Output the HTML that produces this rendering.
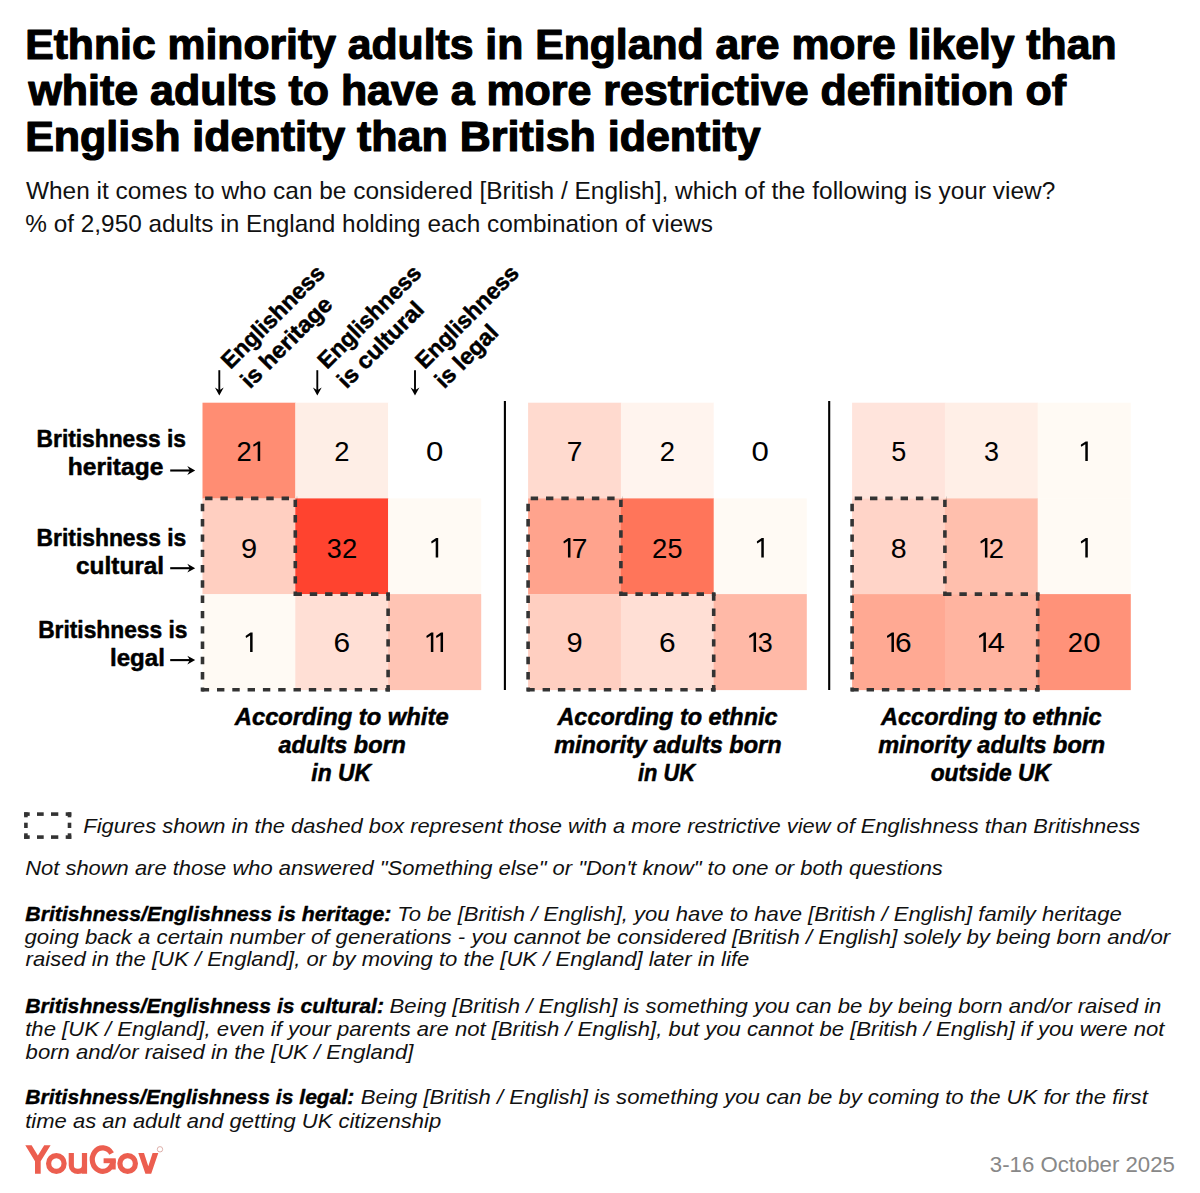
<!DOCTYPE html><html><head><meta charset="utf-8"><style>html,body{margin:0;padding:0;background:#fff;}svg{display:block;}text{font-family:"Liberation Sans",sans-serif;}</style></head><body>
<svg width="1200" height="1193" viewBox="0 0 1200 1193">
<rect x="0" y="0" width="1200" height="1193" fill="#fff"/>
<rect x="202.50" y="402.70" width="93.10" height="96.00" fill="#FF8D73"/>
<rect x="295.30" y="402.70" width="93.10" height="96.00" fill="#FEEEE6"/>
<rect x="388.10" y="402.70" width="93.10" height="96.00" fill="#FFFFFF"/>
<rect x="202.50" y="498.40" width="93.10" height="96.00" fill="#FFCFC1"/>
<rect x="295.30" y="498.40" width="93.10" height="96.00" fill="#FF432F"/>
<rect x="388.10" y="498.40" width="93.10" height="96.00" fill="#FFFAF4"/>
<rect x="202.50" y="594.10" width="93.10" height="96.00" fill="#FFFAF4"/>
<rect x="295.30" y="594.10" width="93.10" height="96.00" fill="#FFDFD5"/>
<rect x="388.10" y="594.10" width="93.10" height="96.00" fill="#FFC4B4"/>
<rect x="528.10" y="402.70" width="93.10" height="96.00" fill="#FFDACF"/>
<rect x="620.90" y="402.70" width="93.10" height="96.00" fill="#FFF4EE"/>
<rect x="713.70" y="402.70" width="93.10" height="96.00" fill="#FFFFFF"/>
<rect x="528.10" y="498.40" width="93.10" height="96.00" fill="#FFA38D"/>
<rect x="620.90" y="498.40" width="93.10" height="96.00" fill="#FF755A"/>
<rect x="713.70" y="498.40" width="93.10" height="96.00" fill="#FFFAF4"/>
<rect x="528.10" y="594.10" width="93.10" height="96.00" fill="#FFCFC1"/>
<rect x="620.90" y="594.10" width="93.10" height="96.00" fill="#FFDFD5"/>
<rect x="713.70" y="594.10" width="93.10" height="96.00" fill="#FFB9A7"/>
<rect x="852.10" y="402.70" width="93.10" height="96.00" fill="#FFE4DC"/>
<rect x="944.90" y="402.70" width="93.10" height="96.00" fill="#FFEFE7"/>
<rect x="1037.70" y="402.70" width="93.10" height="96.00" fill="#FFFAF4"/>
<rect x="852.10" y="498.40" width="93.10" height="96.00" fill="#FFD4C8"/>
<rect x="944.90" y="498.40" width="93.10" height="96.00" fill="#FFBFAD"/>
<rect x="1037.70" y="498.40" width="93.10" height="96.00" fill="#FFFAF4"/>
<rect x="852.10" y="594.10" width="93.10" height="96.00" fill="#FFA993"/>
<rect x="944.90" y="594.10" width="93.10" height="96.00" fill="#FFB4A0"/>
<rect x="1037.70" y="594.10" width="93.10" height="96.00" fill="#FF9279"/>
<text x="236.62" y="461.00" font-size="28.20" textLength="15.26" lengthAdjust="spacingAndGlyphs" fill="#000">2</text>
<path d="M257.70 461.00 L260.20 461.00 L260.20 441.50 L258.10 441.50 L253.40 444.60 L253.20 445.40 L253.70 446.80 L257.70 444.30 Z" fill="#000"/>
<text x="334.27" y="461.00" font-size="28.20" textLength="15.26" lengthAdjust="spacingAndGlyphs" fill="#000">2</text>
<text x="426.03" y="461.00" font-size="28.20" textLength="17.34" lengthAdjust="spacingAndGlyphs" fill="#000">0</text>
<text x="241.04" y="557.60" font-size="28.20" textLength="16.13" lengthAdjust="spacingAndGlyphs" fill="#000">9</text>
<text x="326.87" y="557.60" font-size="28.20" textLength="15.01" lengthAdjust="spacingAndGlyphs" fill="#000">3</text>
<text x="342.02" y="557.60" font-size="28.20" textLength="15.26" lengthAdjust="spacingAndGlyphs" fill="#000">2</text>
<path d="M435.70 557.60 L438.20 557.60 L438.20 538.10 L436.10 538.10 L431.40 541.20 L431.20 542.00 L431.70 543.40 L435.70 540.90 Z" fill="#000"/>
<path d="M250.10 652.10 L252.60 652.10 L252.60 632.60 L250.50 632.60 L245.80 635.70 L245.60 636.50 L246.10 637.90 L250.10 635.40 Z" fill="#000"/>
<text x="333.48" y="652.10" font-size="28.20" textLength="16.63" lengthAdjust="spacingAndGlyphs" fill="#000">6</text>
<path d="M430.85 652.10 L433.35 652.10 L433.35 632.60 L431.25 632.60 L426.55 635.70 L426.35 636.50 L426.85 637.90 L430.85 635.40 Z" fill="#000"/>
<path d="M440.55 652.10 L443.05 652.10 L443.05 632.60 L440.95 632.60 L436.25 635.70 L436.05 636.50 L436.55 637.90 L440.55 635.40 Z" fill="#000"/>
<text x="566.86" y="461.00" font-size="28.20" textLength="15.66" lengthAdjust="spacingAndGlyphs" fill="#000">7</text>
<text x="659.87" y="461.00" font-size="28.20" textLength="15.26" lengthAdjust="spacingAndGlyphs" fill="#000">2</text>
<text x="751.63" y="461.00" font-size="28.20" textLength="17.34" lengthAdjust="spacingAndGlyphs" fill="#000">0</text>
<path d="M567.95 557.60 L570.45 557.60 L570.45 538.10 L568.35 538.10 L563.65 541.20 L563.45 542.00 L563.95 543.40 L567.95 540.90 Z" fill="#000"/>
<text x="571.71" y="557.60" font-size="28.20" textLength="15.66" lengthAdjust="spacingAndGlyphs" fill="#000">7</text>
<text x="652.12" y="557.60" font-size="28.20" textLength="15.26" lengthAdjust="spacingAndGlyphs" fill="#000">2</text>
<text x="667.62" y="557.60" font-size="28.20" textLength="15.01" lengthAdjust="spacingAndGlyphs" fill="#000">5</text>
<path d="M761.30 557.60 L763.80 557.60 L763.80 538.10 L761.70 538.10 L757.00 541.20 L756.80 542.00 L757.30 543.40 L761.30 540.90 Z" fill="#000"/>
<text x="566.64" y="652.10" font-size="28.20" textLength="16.13" lengthAdjust="spacingAndGlyphs" fill="#000">9</text>
<text x="659.08" y="652.10" font-size="28.20" textLength="16.63" lengthAdjust="spacingAndGlyphs" fill="#000">6</text>
<path d="M753.55 652.10 L756.05 652.10 L756.05 632.60 L753.95 632.60 L749.25 635.70 L749.05 636.50 L749.55 637.90 L753.55 635.40 Z" fill="#000"/>
<text x="757.72" y="652.10" font-size="28.20" textLength="15.01" lengthAdjust="spacingAndGlyphs" fill="#000">3</text>
<text x="891.22" y="461.00" font-size="28.20" textLength="15.01" lengthAdjust="spacingAndGlyphs" fill="#000">5</text>
<text x="984.07" y="461.00" font-size="28.20" textLength="15.01" lengthAdjust="spacingAndGlyphs" fill="#000">3</text>
<path d="M1085.30 461.00 L1087.80 461.00 L1087.80 441.50 L1085.70 441.50 L1081.00 444.60 L1080.80 445.40 L1081.30 446.80 L1085.30 444.30 Z" fill="#000"/>
<text x="890.76" y="557.60" font-size="28.20" textLength="15.88" lengthAdjust="spacingAndGlyphs" fill="#000">8</text>
<path d="M984.90 557.60 L987.40 557.60 L987.40 538.10 L985.30 538.10 L980.60 541.20 L980.40 542.00 L980.90 543.40 L984.90 540.90 Z" fill="#000"/>
<text x="988.72" y="557.60" font-size="28.20" textLength="15.26" lengthAdjust="spacingAndGlyphs" fill="#000">2</text>
<path d="M1085.30 557.60 L1087.80 557.60 L1087.80 538.10 L1085.70 538.10 L1081.00 541.20 L1080.80 542.00 L1081.30 543.40 L1085.30 540.90 Z" fill="#000"/>
<path d="M891.45 652.10 L893.95 652.10 L893.95 632.60 L891.85 632.60 L887.15 635.70 L886.95 636.50 L887.45 637.90 L891.45 635.40 Z" fill="#000"/>
<text x="895.13" y="652.10" font-size="28.20" textLength="16.63" lengthAdjust="spacingAndGlyphs" fill="#000">6</text>
<path d="M983.40 652.10 L985.90 652.10 L985.90 632.60 L983.80 632.60 L979.10 635.70 L978.90 636.50 L979.40 637.90 L983.40 635.40 Z" fill="#000"/>
<text x="987.89" y="652.10" font-size="28.20" textLength="17.11" lengthAdjust="spacingAndGlyphs" fill="#000">4</text>
<text x="1067.87" y="652.10" font-size="28.20" textLength="15.26" lengthAdjust="spacingAndGlyphs" fill="#000">2</text>
<text x="1083.23" y="652.10" font-size="28.20" textLength="17.34" lengthAdjust="spacingAndGlyphs" fill="#000">0</text>
<line x1="200.70" y1="498.40" x2="297.10" y2="498.40" stroke="#333333" stroke-width="3.60" stroke-dasharray="7.4 7.9" stroke-dashoffset="-4.40"/>
<line x1="295.30" y1="496.60" x2="295.30" y2="595.90" stroke="#333333" stroke-width="3.60" stroke-dasharray="7.4 7.9" stroke-dashoffset="-3.10"/>
<line x1="293.50" y1="594.10" x2="389.90" y2="594.10" stroke="#333333" stroke-width="3.60" stroke-dasharray="7.4 7.9" stroke-dashoffset="-1.00"/>
<line x1="388.10" y1="592.30" x2="388.10" y2="691.60" stroke="#333333" stroke-width="3.60" stroke-dasharray="7.4 7.9" stroke-dashoffset="-1.00"/>
<line x1="200.70" y1="689.80" x2="389.90" y2="689.80" stroke="#333333" stroke-width="3.60" stroke-dasharray="7.4 7.9" stroke-dashoffset="-1.00"/>
<line x1="202.50" y1="496.60" x2="202.50" y2="691.60" stroke="#333333" stroke-width="3.60" stroke-dasharray="7.4 7.9" stroke-dashoffset="-7.20"/>
<line x1="526.30" y1="498.40" x2="622.70" y2="498.40" stroke="#333333" stroke-width="3.60" stroke-dasharray="7.4 7.9" stroke-dashoffset="-4.40"/>
<line x1="620.90" y1="496.60" x2="620.90" y2="595.90" stroke="#333333" stroke-width="3.60" stroke-dasharray="7.4 7.9" stroke-dashoffset="-3.10"/>
<line x1="619.10" y1="594.10" x2="715.50" y2="594.10" stroke="#333333" stroke-width="3.60" stroke-dasharray="7.4 7.9" stroke-dashoffset="-1.00"/>
<line x1="713.70" y1="592.30" x2="713.70" y2="691.60" stroke="#333333" stroke-width="3.60" stroke-dasharray="7.4 7.9" stroke-dashoffset="-1.00"/>
<line x1="526.30" y1="689.80" x2="715.50" y2="689.80" stroke="#333333" stroke-width="3.60" stroke-dasharray="7.4 7.9" stroke-dashoffset="-1.00"/>
<line x1="528.10" y1="496.60" x2="528.10" y2="691.60" stroke="#333333" stroke-width="3.60" stroke-dasharray="7.4 7.9" stroke-dashoffset="-7.20"/>
<line x1="850.30" y1="498.40" x2="946.70" y2="498.40" stroke="#333333" stroke-width="3.60" stroke-dasharray="7.4 7.9" stroke-dashoffset="-4.40"/>
<line x1="944.90" y1="496.60" x2="944.90" y2="595.90" stroke="#333333" stroke-width="3.60" stroke-dasharray="7.4 7.9" stroke-dashoffset="-3.10"/>
<line x1="943.10" y1="594.10" x2="1039.50" y2="594.10" stroke="#333333" stroke-width="3.60" stroke-dasharray="7.4 7.9" stroke-dashoffset="-1.00"/>
<line x1="1037.70" y1="592.30" x2="1037.70" y2="691.60" stroke="#333333" stroke-width="3.60" stroke-dasharray="7.4 7.9" stroke-dashoffset="-1.00"/>
<line x1="850.30" y1="689.80" x2="1039.50" y2="689.80" stroke="#333333" stroke-width="3.60" stroke-dasharray="7.4 7.9" stroke-dashoffset="-1.00"/>
<line x1="852.10" y1="496.60" x2="852.10" y2="691.60" stroke="#333333" stroke-width="3.60" stroke-dasharray="7.4 7.9" stroke-dashoffset="-7.20"/>
<rect x="503.85" y="401" width="2.1" height="289" fill="#000"/>
<rect x="828.15" y="401" width="2.1" height="289" fill="#000"/>
<text x="25.18" y="59.20" font-size="42.00" fill="#000" font-weight="bold" textLength="1091.31" lengthAdjust="spacingAndGlyphs" stroke="#000" stroke-width="1.20" stroke-linejoin="round">Ethnic minority adults in England are more likely than</text>
<text x="28.47" y="105.00" font-size="42.00" fill="#000" font-weight="bold" textLength="1037.58" lengthAdjust="spacingAndGlyphs" stroke="#000" stroke-width="1.20" stroke-linejoin="round">white adults to have a more restrictive definition of</text>
<text x="25.19" y="150.80" font-size="42.00" fill="#000" font-weight="bold" textLength="735.36" lengthAdjust="spacingAndGlyphs" stroke="#000" stroke-width="1.20" stroke-linejoin="round">English identity than British identity</text>
<text x="25.93" y="198.50" font-size="24.20" fill="#111" textLength="1029.42" lengthAdjust="spacingAndGlyphs">When it comes to who can be considered [British / English], which of the following is your view?</text>
<text x="25.29" y="231.50" font-size="24.20" fill="#111" textLength="687.74" lengthAdjust="spacingAndGlyphs">% of 2,950 adults in England holding each combination of views</text>
<text x="36.59" y="447.40" font-size="23.40" fill="#000" font-weight="bold" textLength="149.35" lengthAdjust="spacingAndGlyphs" stroke="#000" stroke-width="0.50" stroke-linejoin="round">Britishness is</text>
<text x="67.87" y="474.80" font-size="23.40" fill="#000" font-weight="bold" textLength="95.44" lengthAdjust="spacingAndGlyphs" stroke="#000" stroke-width="0.50" stroke-linejoin="round">heritage</text>
<text x="36.58" y="546.20" font-size="23.40" fill="#000" font-weight="bold" textLength="149.72" lengthAdjust="spacingAndGlyphs" stroke="#000" stroke-width="0.50" stroke-linejoin="round">Britishness is</text>
<text x="76.01" y="573.70" font-size="23.40" fill="#000" font-weight="bold" textLength="88.14" lengthAdjust="spacingAndGlyphs" stroke="#000" stroke-width="0.50" stroke-linejoin="round">cultural</text>
<text x="38.17" y="638.10" font-size="23.40" fill="#000" font-weight="bold" textLength="149.34" lengthAdjust="spacingAndGlyphs" stroke="#000" stroke-width="0.50" stroke-linejoin="round">Britishness is</text>
<text x="110.04" y="665.50" font-size="23.40" fill="#000" font-weight="bold" textLength="54.88" lengthAdjust="spacingAndGlyphs" stroke="#000" stroke-width="0.50" stroke-linejoin="round">legal</text>
<text x="234.78" y="725.40" font-size="23.40" fill="#000" font-weight="bold" font-style="italic" textLength="213.84" lengthAdjust="spacingAndGlyphs" stroke="#000" stroke-width="0.50" stroke-linejoin="round">According to white</text>
<text x="278.41" y="752.90" font-size="23.40" fill="#000" font-weight="bold" font-style="italic" textLength="127.50" lengthAdjust="spacingAndGlyphs" stroke="#000" stroke-width="0.50" stroke-linejoin="round">adults born</text>
<text x="311.37" y="780.80" font-size="23.40" fill="#000" font-weight="bold" font-style="italic" textLength="59.77" lengthAdjust="spacingAndGlyphs" stroke="#000" stroke-width="0.50" stroke-linejoin="round">in UK</text>
<text x="557.45" y="725.40" font-size="23.40" fill="#000" font-weight="bold" font-style="italic" textLength="220.14" lengthAdjust="spacingAndGlyphs" stroke="#000" stroke-width="0.50" stroke-linejoin="round">According to ethnic</text>
<text x="554.16" y="752.90" font-size="23.40" fill="#000" font-weight="bold" font-style="italic" textLength="227.39" lengthAdjust="spacingAndGlyphs" stroke="#000" stroke-width="0.50" stroke-linejoin="round">minority adults born</text>
<text x="638.01" y="780.80" font-size="23.40" fill="#000" font-weight="bold" font-style="italic" textLength="57.10" lengthAdjust="spacingAndGlyphs" stroke="#000" stroke-width="0.50" stroke-linejoin="round">in UK</text>
<text x="881.09" y="725.40" font-size="23.40" fill="#000" font-weight="bold" font-style="italic" textLength="220.57" lengthAdjust="spacingAndGlyphs" stroke="#000" stroke-width="0.50" stroke-linejoin="round">According to ethnic</text>
<text x="878.19" y="752.90" font-size="23.40" fill="#000" font-weight="bold" font-style="italic" textLength="227.04" lengthAdjust="spacingAndGlyphs" stroke="#000" stroke-width="0.50" stroke-linejoin="round">minority adults born</text>
<text x="930.73" y="780.80" font-size="23.40" fill="#000" font-weight="bold" font-style="italic" textLength="120.06" lengthAdjust="spacingAndGlyphs" stroke="#000" stroke-width="0.50" stroke-linejoin="round">outside UK</text>
<text x="83.32" y="833.00" font-size="21.00" fill="#111" font-style="italic" textLength="1056.95" lengthAdjust="spacingAndGlyphs">Figures shown in the dashed box represent those with a more restrictive view of Englishness than Britishness</text>
<text x="25.24" y="874.80" font-size="21.00" fill="#111" font-style="italic" textLength="917.59" lengthAdjust="spacingAndGlyphs">Not shown are those who answered &quot;Something else&quot; or &quot;Don't know&quot; to one or both questions</text>
<text x="25.30" y="920.60" font-size="20.60" fill="#000" font-weight="bold" font-style="italic" textLength="366.14" lengthAdjust="spacingAndGlyphs" stroke="#000" stroke-width="0.40" stroke-linejoin="round">Britishness/Englishness is heritage:</text>
<text x="397.25" y="920.60" font-size="21.00" fill="#111" font-style="italic" textLength="724.40" lengthAdjust="spacingAndGlyphs">To be [British / English], you have to have [British / English] family heritage</text>
<text x="24.51" y="943.90" font-size="21.00" fill="#111" font-style="italic" textLength="1145.67" lengthAdjust="spacingAndGlyphs">going back a certain number of generations - you cannot be considered [British / English] solely by being born and/or</text>
<text x="25.63" y="966.40" font-size="21.00" fill="#111" font-style="italic" textLength="723.68" lengthAdjust="spacingAndGlyphs">raised in the [UK / England], or by moving to the [UK / England] later in life</text>
<text x="25.30" y="1012.90" font-size="20.60" fill="#000" font-weight="bold" font-style="italic" textLength="358.65" lengthAdjust="spacingAndGlyphs" stroke="#000" stroke-width="0.40" stroke-linejoin="round">Britishness/Englishness is cultural:</text>
<text x="389.58" y="1012.90" font-size="21.00" fill="#111" font-style="italic" textLength="771.85" lengthAdjust="spacingAndGlyphs">Being [British / English] is something you can be by being born and/or raised in</text>
<text x="25.24" y="1035.70" font-size="21.00" fill="#111" font-style="italic" textLength="1139.15" lengthAdjust="spacingAndGlyphs">the [UK / England], even if your parents are not [British / English], but you cannot be [British / English] if you were not</text>
<text x="25.63" y="1058.60" font-size="21.00" fill="#111" font-style="italic" textLength="387.76" lengthAdjust="spacingAndGlyphs">born and/or raised in the [UK / England]</text>
<text x="25.31" y="1104.40" font-size="20.60" fill="#000" font-weight="bold" font-style="italic" textLength="329.03" lengthAdjust="spacingAndGlyphs" stroke="#000" stroke-width="0.40" stroke-linejoin="round">Britishness/Englishness is legal:</text>
<text x="360.76" y="1104.40" font-size="21.00" fill="#111" font-style="italic" textLength="787.03" lengthAdjust="spacingAndGlyphs">Being [British / English] is something you can be by coming to the UK for the first</text>
<text x="25.24" y="1127.60" font-size="21.00" fill="#111" font-style="italic" textLength="415.96" lengthAdjust="spacingAndGlyphs">time as an adult and getting UK citizenship</text>
<text x="989.86" y="1172.40" font-size="22.40" fill="#888888" textLength="185.02" lengthAdjust="spacingAndGlyphs">3-16 October 2025</text>
<g transform="translate(230.49 370.11) rotate(-45)">
<text x="0" y="0" font-size="23.20" font-weight="bold" textLength="135.30" lengthAdjust="spacingAndGlyphs" stroke="#000" stroke-width="0.5" stroke-linejoin="round">Englishness</text>
<text x="0" y="27.6" font-size="23.20" font-weight="bold" textLength="118.50" lengthAdjust="spacingAndGlyphs" stroke="#000" stroke-width="0.5" stroke-linejoin="round">is heritage</text>
</g>
<path d="M219.30 370.2 L219.30 391" stroke="#000" stroke-width="1.9" fill="none"/>
<path d="M219.30 395.4 L214.90 387.6 L219.30 390.2 L223.70 387.6 Z" fill="#000"/>
<g transform="translate(327.09 370.11) rotate(-45)">
<text x="0" y="0" font-size="23.20" font-weight="bold" textLength="135.30" lengthAdjust="spacingAndGlyphs" stroke="#000" stroke-width="0.5" stroke-linejoin="round">Englishness</text>
<text x="0" y="27.6" font-size="23.20" font-weight="bold" textLength="111.50" lengthAdjust="spacingAndGlyphs" stroke="#000" stroke-width="0.5" stroke-linejoin="round">is cultural</text>
</g>
<path d="M317.30 370.2 L317.30 391" stroke="#000" stroke-width="1.9" fill="none"/>
<path d="M317.30 395.4 L312.90 387.6 L317.30 390.2 L321.70 387.6 Z" fill="#000"/>
<g transform="translate(424.69 370.11) rotate(-45)">
<text x="0" y="0" font-size="23.20" font-weight="bold" textLength="135.30" lengthAdjust="spacingAndGlyphs" stroke="#000" stroke-width="0.5" stroke-linejoin="round">Englishness</text>
<text x="0" y="27.6" font-size="23.20" font-weight="bold" textLength="78.60" lengthAdjust="spacingAndGlyphs" stroke="#000" stroke-width="0.5" stroke-linejoin="round">is legal</text>
</g>
<path d="M415.00 370.2 L415.00 391" stroke="#000" stroke-width="1.9" fill="none"/>
<path d="M415.00 395.4 L410.60 387.6 L415.00 390.2 L419.40 387.6 Z" fill="#000"/>
<path d="M170.2 470.50 L191 470.50" stroke="#000" stroke-width="2.1" fill="none"/>
<path d="M195.2 470.50 L187.3 466.10 L189.9 470.50 L187.3 474.90 Z" fill="#000"/>
<path d="M170.2 568.20 L191 568.20" stroke="#000" stroke-width="2.1" fill="none"/>
<path d="M195.2 568.20 L187.3 563.80 L189.9 568.20 L187.3 572.60 Z" fill="#000"/>
<path d="M170.2 660.10 L191 660.10" stroke="#000" stroke-width="2.1" fill="none"/>
<path d="M195.2 660.10 L187.3 655.70 L189.9 660.10 L187.3 664.50 Z" fill="#000"/>
<rect x="24.10" y="812.30" width="5.60" height="3.60" fill="#333333"/>
<rect x="24.10" y="835.30" width="5.60" height="3.60" fill="#333333"/>
<rect x="37.00" y="812.30" width="6.70" height="3.60" fill="#333333"/>
<rect x="37.00" y="835.30" width="6.70" height="3.60" fill="#333333"/>
<rect x="51.00" y="812.30" width="7.30" height="3.60" fill="#333333"/>
<rect x="51.00" y="835.30" width="7.30" height="3.60" fill="#333333"/>
<rect x="65.70" y="812.30" width="5.60" height="3.60" fill="#333333"/>
<rect x="65.70" y="835.30" width="5.60" height="3.60" fill="#333333"/>
<rect x="24.10" y="812.30" width="3.60" height="5.00" fill="#333333"/>
<rect x="67.70" y="812.30" width="3.60" height="5.00" fill="#333333"/>
<rect x="24.10" y="822.70" width="3.60" height="5.30" fill="#333333"/>
<rect x="67.70" y="822.70" width="3.60" height="5.30" fill="#333333"/>
<rect x="24.10" y="833.30" width="3.60" height="5.60" fill="#333333"/>
<rect x="67.70" y="833.30" width="3.60" height="5.60" fill="#333333"/>
<g fill="#EC5E4F" stroke="none">
<path d="M25.3 1145.3 L31.6 1145.3 L37.85 1155.6 L44.2 1145.3 L50.6 1145.3 L40.7 1161.2 L40.7 1173.8 L35.0 1173.8 L35.0 1161.2 Z"/>
</g>
<g fill="none" stroke="#EC5E4F" stroke-width="5.2">
<ellipse cx="56.35" cy="1163.5" rx="7.75" ry="7.9"/>
<path d="M71.3 1153 L71.3 1165.6 A6.6 5.8 0 0 0 84.5 1165.6 L84.5 1153 M84.5 1165 L84.5 1173.8"/>
<path d="M111.61 1153.50 A10.4 11.75 0 1 0 113.10 1159.55 L113.10 1169.5"/>
<ellipse cx="127.65" cy="1163.5" rx="7.75" ry="7.9"/>
</g>
<rect x="103.6" y="1158.3" width="12.1" height="4.9" fill="#EC5E4F"/>
<path d="M138.3 1153 L144.0 1153 L148.3 1166.3 L152.6 1153 L158.3 1153 L151.2 1173.8 L145.4 1173.8 Z" fill="#EC5E4F"/>
<circle cx="160.0" cy="1149.3" r="2.7" fill="none" stroke="#D9A8A2" stroke-width="0.9"/>
</svg></body></html>
